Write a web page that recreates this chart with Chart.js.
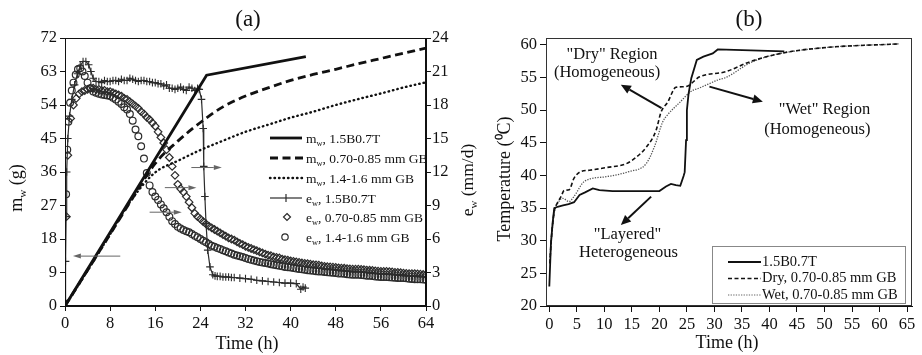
<!DOCTYPE html>
<html>
<head>
<meta charset="utf-8">
<script src="https://cdn.jsdelivr.net/npm/chart.js@4.4.1/dist/chart.umd.min.js"></script>
<style>
  html, body { margin: 0; padding: 0; background: #fff; }
  #wrap { position: relative; width: 922px; height: 355px; overflow: hidden; }
  #chartA { position: absolute; left: 0; top: 0; }
  #chartB { position: absolute; left: 460px; top: 0; }
</style>
</head>
<body>
<div id="wrap">
  <canvas id="chartA" width="480" height="355"></canvas>
  <canvas id="chartB" width="462" height="355"></canvas>
</div>
<script>
// ---- panel (a): cumulative mass m_w (g) and evaporation rate e_w (mm/d) ----
const xTicksA = [0, 8, 16, 24, 32, 40, 48, 56, 64];
const yTicksA = [0, 9, 18, 27, 36, 45, 54, 63, 72];
const y1TicksA = [0, 3, 6, 9, 12, 15, 18, 21, 24];

const tMwLayered = [0, 25.1, 42.7];
const mwLayered = [0, 62.0, 67.0];

const tMwCoarse = [0, 4, 8, 12, 16, 20, 24, 28, 32, 36, 40, 44, 48, 52, 56, 60, 64];
const mwFine = [0, 9.6, 19.3, 29.0, 38.3, 44.3, 49.3, 53.5, 56.4, 58.6, 60.6, 62.2, 63.6, 65.1, 66.5, 67.9, 69.3];
const mwCoarse = [0, 9.5, 19.3, 29.0, 35.9, 39.0, 41.9, 44.4, 46.8, 48.7, 50.6, 52.2, 54.0, 55.6, 57.1, 58.7, 60.1];

const tEwLayered = [0, 0.1, 0.2, 0.3, 0.5, 0.8, 1.2, 1.7, 2.2, 2.7, 3.2, 3.7, 4.2, 4.6, 5.0, 5.5, 6, 6.5, 7, 7.5, 8, 8.5, 9, 9.5, 10,
  10.5, 11, 11.5, 12, 12.5, 13, 13.5, 14, 14.5, 15, 15.5, 16, 16.5, 17, 17.5, 18, 18.5, 19, 19.5, 20, 20.5, 21, 21.5, 22, 22.5, 23, 23.5,
  23.8, 24.2, 24.5, 24.6, 24.8, 25.0, 25.3, 25.7, 26.2, 26.6,
  27, 27.5, 28, 28.5, 29, 29.5, 30, 31, 32, 33, 34, 35, 36, 37, 38, 39, 40, 41, 41.8, 42.2, 42.6];
const ewLayered = [0.5, 4, 8, 12, 15, 17, 18.5, 19.8, 20.8, 21.5, 21.9, 21.9, 21.6, 21.0, 20.4, 20.1, 20.1, 20.0, 20.2, 20.1, 20.1, 20.2, 20.2, 20.1, 20.3,
  20.2, 20.2, 20.4, 20.3, 20.2, 20.1, 20.2, 20.2, 20.1, 20.1, 20.0, 20.0, 19.9, 19.9, 19.7, 19.8, 19.5, 19.5, 19.4, 19.5, 19.6, 19.4, 19.3, 19.6, 19.5, 19.3, 19.5,
  19.4, 18.5, 15.9, 12.5, 9.8, 7.4, 5.0, 3.5, 2.8, 2.7,
  2.65, 2.65, 2.6, 2.6, 2.6, 2.55, 2.55, 2.5, 2.45, 2.4, 2.3, 2.25, 2.2, 2.15, 2.1, 2.05, 2.05, 2.0, 1.5, 1.7, 1.6];

const tEwFine = [0.25, 0.5, 1, 1.5, 2, 2.5, 3, 3.5, 4, 4.5, 5, 5.5, 6, 6.5, 7, 7.5, 8, 8.5, 9, 9.5, 10, 10.5, 11, 11.5,
  12, 12.5, 13, 13.5, 14, 14.5, 15, 15.5, 16, 16.5, 17, 17.5, 18, 18.5, 19, 19.5, 20, 20.5, 21, 21.5, 22, 22.5, 23, 23.5,
  24, 24.5, 25, 25.5, 26, 26.5, 27, 27.5, 28, 28.5, 29, 29.5, 30, 30.5, 31, 31.5, 32, 32.5, 33, 33.5, 34, 34.5, 35, 35.5,
  36, 36.5, 37, 37.5, 38, 38.5, 39, 39.5, 40, 40.5, 41, 41.5, 42, 42.5, 43, 43.5, 44, 44.5, 45, 45.5, 46, 46.5, 47, 47.5,
  48, 48.5, 49, 49.5, 50, 50.5, 51, 51.5, 52, 52.5, 53, 53.5, 54, 54.5, 55, 55.5, 56, 56.5, 57, 57.5, 58, 58.5, 59, 59.5,
  60, 60.5, 61, 61.5, 62, 62.5, 63, 63.5, 64];
const ewFine = [8.0, 13.5, 16.8, 18.0, 18.6, 19.0, 19.2, 19.3, 19.4, 19.5, 19.5, 19.4, 19.4, 19.3, 19.3, 19.2, 19.2, 19.1, 19.0, 18.9, 18.8, 18.6, 18.5, 18.3,
  18.1, 17.9, 17.7, 17.4, 17.2, 16.9, 16.7, 16.4, 16.1, 15.6, 15.1, 14.6, 14.0, 13.3, 12.5, 11.7, 10.9, 10.5, 10.2, 9.8, 9.3, 8.8, 8.3, 8.0,
  7.8, 7.55, 7.35, 7.15, 7.0, 6.85, 6.7, 6.55, 6.4, 6.25, 6.1, 6.0, 5.9, 5.75, 5.6, 5.5, 5.35, 5.25, 5.15, 5.05, 4.95, 4.85, 4.75, 4.65,
  4.55, 4.5, 4.4, 4.35, 4.3, 4.2, 4.15, 4.1, 4.05, 4.0, 3.95, 3.9, 3.85, 3.82, 3.8, 3.75, 3.7, 3.68, 3.65, 3.6, 3.55, 3.52, 3.5, 3.48,
  3.45, 3.42, 3.4, 3.38, 3.35, 3.32, 3.3, 3.3, 3.3, 3.28, 3.25, 3.22, 3.2, 3.18, 3.15, 3.12, 3.1, 3.1, 3.1, 3.08, 3.05, 3.02, 3.0, 2.98,
  2.95, 2.92, 2.9, 2.9, 2.9, 2.88, 2.85, 2.82, 2.8];

const tEwCoarse = [0.2, 0.4, 0.6, 0.9, 1.2, 1.5, 1.9, 2.3, 2.7, 3.1, 3.5, 4, 4.5, 5, 5.5, 6, 6.5, 7, 7.5, 8, 8.5, 9, 9.5, 10,
  10.5, 11, 11.5, 12, 12.5, 13, 13.5, 14, 14.5, 15, 15.5, 16, 16.5, 17, 17.5, 18, 18.5, 19, 19.5, 20, 20.5, 21, 21.5, 22,
  22.5, 23, 23.5, 24, 24.5, 25, 25.5, 26, 26.5, 27, 27.5, 28, 28.5, 29, 29.5, 30, 30.5, 31, 31.5, 32, 32.5, 33, 33.5, 34,
  34.5, 35, 35.5, 36, 36.5, 37, 37.5, 38, 38.5, 39, 39.5, 40, 40.5, 41, 41.5, 42, 42.5, 43, 43.5, 44, 44.5, 45, 45.5, 46,
  46.5, 47, 47.5, 48, 48.5, 49, 49.5, 50, 50.5, 51, 51.5, 52, 52.5, 53, 53.5, 54, 54.5, 55, 55.5, 56, 56.5, 57, 57.5, 58,
  58.5, 59, 59.5, 60, 60.5, 61, 61.5, 62, 62.5, 63, 63.5, 64];
const ewCoarse = [10, 14, 16.5, 18.2, 19.3, 20.0, 20.7, 21.2, 21.3, 21.0, 20.6, 20.0, 19.5, 19.2, 19.1, 19.0, 18.95, 18.9, 18.85, 18.8, 18.65, 18.5, 18.3, 18.1,
  17.8, 17.6, 17.2, 16.6, 15.8, 15.2, 14.3, 13.2, 11.9, 10.8, 10.2, 9.8, 9.5, 9.1, 8.75, 8.4, 8.0, 7.6, 7.35, 7.1, 6.95, 6.8, 6.7, 6.6,
  6.45, 6.3, 6.15, 6.0, 5.85, 5.7, 5.55, 5.4, 5.3, 5.2, 5.1, 5.0, 4.9, 4.8, 4.7, 4.6, 4.52, 4.45, 4.38, 4.3, 4.22, 4.15, 4.08, 4.0,
  3.95, 3.9, 3.85, 3.8, 3.75, 3.7, 3.65, 3.6, 3.55, 3.5, 3.48, 3.45, 3.4, 3.35, 3.32, 3.3, 3.25, 3.2, 3.18, 3.15, 3.12, 3.1, 3.08, 3.05,
  3.02, 3.0, 2.98, 2.95, 2.92, 2.9, 2.88, 2.85, 2.82, 2.8, 2.8, 2.8, 2.78, 2.75, 2.72, 2.7, 2.68, 2.65, 2.62, 2.6, 2.6, 2.6, 2.58, 2.55,
  2.52, 2.5, 2.5, 2.5, 2.48, 2.45, 2.42, 2.4, 2.4, 2.4, 2.38, 2.35];

const legendNamesA = [', 1.5B0.7T', ', 0.70-0.85 mm GB', ', 1.4-1.6 mm GB', ', 1.5B0.7T', ', 0.70-0.85 mm GB', ', 1.4-1.6 mm GB'];

// ---- panel (b): temperature (°C) ----
const xTicksB = [0, 5, 10, 15, 20, 25, 30, 35, 40, 45, 50, 55, 60, 65];
const yTicksB = [20, 25, 30, 35, 40, 45, 50, 55, 60];

const tTempLayered = [0, 0.3, 0.6, 0.9, 1.5, 2.5, 3.5, 4.5, 5.5, 6.5, 7.9, 9.1, 11.5, 20, 21.2, 22.1, 23, 23.8,
  24.4, 24.6, 24.85, 25.0, 25.3, 25.8, 26.8, 28, 29.7, 30.6, 42.7];
const tempLayered = [23.0, 29.6, 32.7, 35.0, 35.2, 35.4, 35.6, 35.9, 37.0, 37.4, 38.0, 37.75, 37.6, 37.6, 38.3, 38.7, 38.5, 38.4,
  39.9, 40.5, 45.4, 50.0, 52.5, 54.9, 57.7, 58.2, 58.7, 59.3, 59.0];

const tTempDry = [0.1, 0.3, 0.6, 0.9, 1.3, 2.1, 2.7, 3.6, 4.5, 5.75, 7.3, 10.3, 14.0, 15.8, 17.6, 19.4, 20.3, 21.5,
  23.0, 24.8, 27.3, 32.1, 36.4, 42.7, 50.4, 63.6];
const tempDry = [26.5, 29.5, 32.5, 34.5, 35.5, 36.7, 37.7, 37.8, 39.6, 40.6, 40.8, 41.2, 41.8, 42.8, 44.3, 46.9, 49.7, 51.2,
  53.5, 53.6, 55.1, 55.9, 57.4, 58.8, 59.6, 60.15];

const tTempWet = [0.1, 0.4, 0.7, 1.0, 1.5, 2.4, 3.6, 4.5, 6.4, 10.3, 14.5, 17.6, 19.1, 20.6, 21.5, 23.6, 25.8, 27.3,
  30.9, 32.1, 36.4, 40, 42.7, 50.4, 63.6];
const tempWet = [27.0, 30.5, 33.0, 34.8, 35.7, 36.5, 36.0, 36.8, 39.1, 39.8, 40.6, 41.8, 44.4, 48.2, 49.3, 51.1, 52.9, 53.4,
  54.7, 55.0, 57.2, 58.3, 58.8, 59.6, 60.15];

const legendNamesB = ['1.5B0.7T', 'Dry, 0.70-0.85 mm GB', 'Wet, 0.70-0.85 mm GB'];

// ---- shared helpers ----
const FONT = "'Liberation Serif', 'Times New Roman', serif";
const INK = '#111';
const MARK = '#2c2c2c';
const TICK_SIZE = 16.5;
Chart.defaults.font.family = FONT;
Chart.defaults.color = INK;

const pts = (ts, vs) => ts.map((t, i) => ({ x: t, y: vs[i] }));

function fixedTicks(list) {
  return s => { s.ticks = list.map(v => ({ value: v })); };
}

function axis(opts) {
  return Object.assign({
    type: 'linear',
    grid: { display: true, drawOnChartArea: false, drawTicks: true, tickLength: 5, color: INK },
    border: { display: true, color: INK, width: 1 },
    ticks: { font: { size: TICK_SIZE }, padding: 3, color: INK, maxRotation: 0, autoSkip: false }
  }, opts);
}

// text with normal and subscript parts
function richText(ctx, parts, x, y, size, align) {
  const subSize = size * 0.62;
  let total = 0;
  const widths = parts.map(([txt, sub]) => {
    ctx.font = (sub ? subSize : size) + 'px ' + FONT;
    const w = ctx.measureText(txt).width;
    total += w;
    return w;
  });
  let cx = align === 'center' ? x - total / 2 : x;
  ctx.textAlign = 'left';
  ctx.textBaseline = 'alphabetic';
  parts.forEach(([txt, sub], i) => {
    ctx.font = (sub ? subSize : size) + 'px ' + FONT;
    ctx.fillText(txt, cx, sub ? y + size * 0.22 : y);
    cx += widths[i];
  });
}

function arrow(ctx, x1, y1, x2, y2, color, lw, headLen, headW) {
  const ang = Math.atan2(y2 - y1, x2 - x1);
  const bx = x2 - headLen * Math.cos(ang), by = y2 - headLen * Math.sin(ang);
  ctx.strokeStyle = color; ctx.fillStyle = color; ctx.lineWidth = lw;
  ctx.setLineDash([]);
  ctx.beginPath(); ctx.moveTo(x1, y1); ctx.lineTo(bx, by); ctx.stroke();
  ctx.beginPath();
  ctx.moveTo(x2, y2);
  ctx.lineTo(bx + headW * Math.sin(ang), by - headW * Math.cos(ang));
  ctx.lineTo(bx - headW * Math.sin(ang), by + headW * Math.cos(ang));
  ctx.closePath(); ctx.fill();
}

// ---- chart (a) ----
const decorA = {
  id: 'decorA',
  afterDraw(chart) {
    const { ctx, chartArea: ca, scales: { x, y, y1 } } = chart;
    ctx.save();
    ctx.strokeStyle = INK; ctx.lineWidth = 1;
    ctx.strokeRect(ca.left + 0.5, ca.top + 0.5, ca.right - ca.left - 1, ca.bottom - ca.top - 1);

    ctx.fillStyle = INK;
    ctx.font = '23px ' + FONT; ctx.textAlign = 'center'; ctx.textBaseline = 'middle';
    ctx.fillText('(a)', 248, 20);
    ctx.font = '18px ' + FONT;
    ctx.fillText('Time (h)', 247, 344);

    ctx.save();
    ctx.translate(22, 188); ctx.rotate(-Math.PI / 2);
    richText(ctx, [['m', false], ['w', true], [' (g)', false]], 0, 0, 18, 'center');
    ctx.restore();
    ctx.save();
    ctx.translate(473, 180); ctx.rotate(-Math.PI / 2);
    richText(ctx, [['e', false], ['w', true], [' (mm/d)', false]], 0, 0, 17.5, 'center');
    ctx.restore();

    // arrows pointing to the axis each group belongs to
    arrow(ctx, x.getPixelForValue(9.8), y.getPixelForValue(13.4), x.getPixelForValue(1.4), y.getPixelForValue(13.4), '#666', 1, 8, 2.5);
    [[15.0, 20.7, 8.4], [17.7, 23.3, 10.6], [22.4, 27.8, 12.4]].forEach(([a, b, v]) => {
      arrow(ctx, x.getPixelForValue(a), y1.getPixelForValue(v), x.getPixelForValue(b), y1.getPixelForValue(v), '#666', 1, 8, 2.5);
    });

    // legend
    const rows = [138, 158, 178, 198, 217, 237];
    const lx1 = 270, lx2 = 302, tx = 306;
    rows.forEach((ry, i) => {
      ctx.strokeStyle = INK; ctx.fillStyle = INK;
      ctx.lineCap = 'butt'; ctx.setLineDash([]);
      if (i === 0) {
        ctx.lineWidth = 2.8; ctx.beginPath(); ctx.moveTo(lx1, ry); ctx.lineTo(lx2, ry); ctx.stroke();
      } else if (i === 1) {
        ctx.lineWidth = 2.8; ctx.setLineDash([8, 4.5]); ctx.beginPath(); ctx.moveTo(lx1, ry); ctx.lineTo(lx2 + 2, ry); ctx.stroke();
      } else if (i === 2) {
        ctx.lineWidth = 2.4; ctx.lineCap = 'round'; ctx.setLineDash([0.5, 4]);
        ctx.beginPath(); ctx.moveTo(lx1, ry); ctx.lineTo(lx2, ry); ctx.stroke();
      } else if (i === 3) {
        ctx.strokeStyle = MARK; ctx.lineWidth = 1.2;
        ctx.beginPath(); ctx.moveTo(lx1, ry); ctx.lineTo(lx2, ry); ctx.stroke();
        const cx = (lx1 + lx2) / 2;
        ctx.beginPath(); ctx.moveTo(cx, ry - 4); ctx.lineTo(cx, ry + 4); ctx.stroke();
      } else if (i === 4) {
        ctx.strokeStyle = MARK; ctx.lineWidth = 1.2;
        const cx = 287;
        ctx.beginPath(); ctx.moveTo(cx, ry - 3.5); ctx.lineTo(cx + 3.5, ry); ctx.lineTo(cx, ry + 3.5); ctx.lineTo(cx - 3.5, ry); ctx.closePath(); ctx.stroke();
      } else {
        ctx.strokeStyle = MARK; ctx.lineWidth = 1.2;
        ctx.beginPath(); ctx.arc(285, ry, 3.2, 0, Math.PI * 2); ctx.stroke();
      }
      ctx.setLineDash([]); ctx.lineCap = 'butt';
      ctx.fillStyle = INK;
      richText(ctx, [[i < 3 ? 'm' : 'e', false], ['w', true], [legendNamesA[i], false]], tx, ry + 5, 13.5, 'left');
    });
    ctx.restore();
  }
};

new Chart(document.getElementById('chartA'), {
  type: 'line',
  data: {
    datasets: [
      { data: pts(tMwLayered, mwLayered), yAxisID: 'y', borderColor: INK, borderWidth: 2.8, pointRadius: 0, tension: 0 },
      { data: pts(tMwCoarse, mwFine), yAxisID: 'y', borderColor: INK, borderWidth: 2.8, borderDash: [8, 4.5], pointRadius: 0, cubicInterpolationMode: 'monotone' },
      { data: pts(tMwCoarse, mwCoarse), yAxisID: 'y', borderColor: INK, borderWidth: 2.4, borderDash: [0.5, 4], borderCapStyle: 'round', pointRadius: 0, cubicInterpolationMode: 'monotone' },
      { data: pts(tEwLayered, ewLayered), yAxisID: 'y1', borderColor: MARK, borderWidth: 1.2, pointStyle: 'cross', pointRadius: 3.8, pointBorderColor: MARK, pointBorderWidth: 1.1, tension: 0 },
      { data: pts(tEwFine, ewFine), yAxisID: 'y1', showLine: false, pointStyle: 'rectRot', pointRadius: 3.8, pointBorderColor: MARK, pointBackgroundColor: 'rgba(0,0,0,0)', pointBorderWidth: 1.2 },
      { data: pts(tEwCoarse, ewCoarse), yAxisID: 'y1', showLine: false, pointStyle: 'circle', pointRadius: 3.4, pointBorderColor: MARK, pointBackgroundColor: 'rgba(0,0,0,0)', pointBorderWidth: 1.2 }
    ]
  },
  options: {
    responsive: false,
    animation: false,
    devicePixelRatio: 1,
    layout: { padding: { top: 38, left: 0, right: 0, bottom: 0 } },
    plugins: { legend: { display: false }, tooltip: { enabled: false } },
    scales: {
      x: axis({ min: 0, max: 64, afterBuildTicks: fixedTicks(xTicksA), afterFit: s => { s.height = 49; } }),
      y: axis({ position: 'left', min: 0, max: 72, afterBuildTicks: fixedTicks(yTicksA), afterFit: s => { s.width = 65; } }),
      y1: axis({ position: 'right', min: 0, max: 24, afterBuildTicks: fixedTicks(y1TicksA), afterFit: s => { s.width = 54; },
        ticks: { font: { size: TICK_SIZE }, padding: 1, color: INK, maxRotation: 0, autoSkip: false } })
    }
  },
  plugins: [decorA]
});

// ---- chart (b) ----
const decorB = {
  id: 'decorB',
  afterDraw(chart) {
    const { ctx, chartArea: ca, scales: { x, y } } = chart;
    ctx.save();
    ctx.strokeStyle = '#333'; ctx.lineWidth = 1;
    ctx.strokeRect(ca.left + 0.5, ca.top + 0.5, ca.right - ca.left - 1, ca.bottom - ca.top - 1);

    ctx.fillStyle = INK;
    ctx.font = '23px ' + FONT; ctx.textAlign = 'center'; ctx.textBaseline = 'middle';
    ctx.fillText('(b)', 289, 20);
    ctx.font = '18px ' + FONT;
    ctx.fillText('Time (h)', 267, 343);
    ctx.save();
    ctx.translate(45, 179); ctx.rotate(-Math.PI / 2);
    ctx.fillText('Temperature (\u2070C)', 0, 0);
    ctx.restore();

    // region notes
    ctx.font = '16.5px ' + FONT;
    [['"Dry" Region', 11.4, 58.5], ['(Homogeneous)', 10.5, 55.7], ['"Wet" Region', 50.0, 50.0],
     ['(Homogeneous)', 48.7, 47.0], ['"Layered"', 14.2, 30.9], ['Heterogeneous', 14.4, 28.1]].forEach(([t, a, b]) => {
      ctx.fillText(t, x.getPixelForValue(a), y.getPixelForValue(b));
    });
    [[20.4, 50.3, 13.0, 53.9], [29.1, 53.6, 38.8, 51.3], [18.5, 36.75, 13.0, 32.4]].forEach(([a, b, c, d]) => {
      arrow(ctx, x.getPixelForValue(a), y.getPixelForValue(b), x.getPixelForValue(c), y.getPixelForValue(d), '#111', 2, 10, 4.5);
    });

    // legend box
    const bx = 712 - 460, by = 246, bw = 193, bh = 57;
    ctx.fillStyle = '#fff'; ctx.fillRect(bx, by, bw, bh);
    ctx.strokeStyle = '#888'; ctx.lineWidth = 1; ctx.strokeRect(bx + 0.5, by + 0.5, bw, bh);
    const rows = [262, 278.5, 295];
    const styles = [[INK, 1.8, []], [INK, 1.5, [4, 2.5]], ['#666', 1.2, [1.3, 1.3]]];
    rows.forEach((ry, i) => {
      const [c, w, d] = styles[i];
      ctx.strokeStyle = c; ctx.lineWidth = w; ctx.setLineDash(d);
      ctx.beginPath(); ctx.moveTo(728 - 460, ry); ctx.lineTo(761 - 460, ry); ctx.stroke();
      ctx.setLineDash([]);
      ctx.fillStyle = INK; ctx.font = '14.5px ' + FONT; ctx.textAlign = 'left'; ctx.textBaseline = 'middle';
      ctx.fillText(legendNamesB[i], 762 - 460, ry);
    });
    ctx.restore();
  }
};

new Chart(document.getElementById('chartB'), {
  type: 'line',
  data: {
    datasets: [
      { data: pts(tTempLayered, tempLayered), borderColor: INK, borderWidth: 1.8, pointRadius: 0, tension: 0 },
      { data: pts(tTempDry, tempDry), borderColor: INK, borderWidth: 1.6, borderDash: [4, 2.5], pointRadius: 0, cubicInterpolationMode: 'monotone' },
      { data: pts(tTempWet, tempWet), borderColor: '#555', borderWidth: 1.3, borderDash: [1.3, 1.3], pointRadius: 0, cubicInterpolationMode: 'monotone' }
    ]
  },
  options: {
    responsive: false,
    animation: false,
    devicePixelRatio: 1,
    layout: { padding: { top: 38, left: 0, right: 10, bottom: 0 } },
    plugins: { legend: { display: false }, tooltip: { enabled: false } },
    scales: {
      x: axis({ min: -0.6, max: 65.9, afterBuildTicks: fixedTicks(xTicksB), afterFit: s => { s.height = 49; },
        grid: { display: true, drawOnChartArea: false, drawTicks: true, tickLength: 6, color: INK } }),
      y: axis({ position: 'left', min: 20, max: 61.05, afterBuildTicks: fixedTicks(yTicksB), afterFit: s => { s.width = 86; },
        grid: { display: true, drawOnChartArea: false, drawTicks: true, tickLength: 6, color: INK } })
    }
  },
  plugins: [decorB]
});
</script>
</body>
</html>
